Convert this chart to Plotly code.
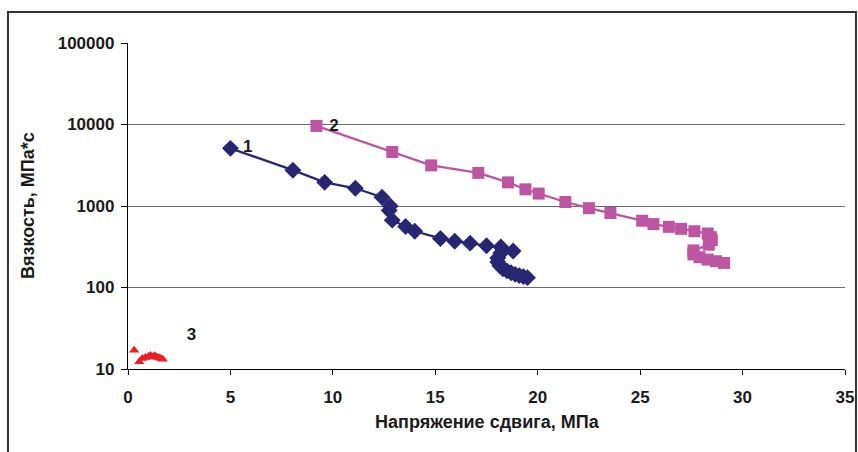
import plotly.graph_objects as go

# Series 1 (navy diamonds)
x1 = [5.0, 8.05, 9.6, 11.1, 12.4, 12.8, 12.75, 12.9, 13.55, 14.0, 15.25, 15.95, 16.7, 17.5,
      18.2, 18.8, 18.2, 18.05, 18.05, 18.15, 18.3, 18.5, 18.7, 18.9, 19.1, 19.3, 19.5]
y1 = [5100, 2750, 1950, 1650, 1280, 1000, 880, 670, 560, 490, 400, 370, 350, 325,
      315, 280, 265, 230, 205, 185, 170, 160, 152, 145, 140, 136, 132]

# Series 2 (magenta squares)
x2 = [9.2, 12.9, 14.8, 17.1, 18.55, 19.4, 20.05, 21.35, 22.5, 23.55, 25.1, 25.65, 26.4, 27.0,
      27.65, 28.3, 28.45, 28.5, 28.35, 27.6, 27.6, 27.9, 28.3, 28.7, 29.1]
y2 = [9600, 4600, 3150, 2550, 1950, 1600, 1420, 1120, 940, 820, 660, 600, 555, 525,
      490, 460, 415, 380, 335, 285, 255, 235, 220, 210, 200]

# Series 3 (red triangles)
x3 = [0.3, 0.55, 0.7, 0.85, 1.0, 1.1, 1.2, 1.3, 1.4, 1.5, 1.6, 1.7]
y3 = [17, 12.3, 13.5, 13.8, 14.2, 14.6, 14.0, 14.5, 14.0, 13.8, 13.5, 13.2]

# Series labels
lab_text = ["1", "2", "3"]
lab_x = [5.85, 10.05, 3.1]
lab_y = [5150, 9300, 25.5]

x_ticks = [0, 5, 10, 15, 20, 25, 30, 35]
y_ticks = [10, 100, 1000, 10000, 100000]
y_tick_text = ["10", "100", "1000", "10000", "100000"]

x_title = "Напряжение сдвига, МПа"
y_title = "Вязкость, МПа*с"

FONT = "Liberation Sans, Arial, sans-serif"
TXT = "#1a1a1a"

fig = go.Figure()
fig.add_trace(go.Scatter(
    x=x1, y=y1, mode="lines+markers",
    line=dict(color="#262673", width=2.3),
    marker=dict(symbol="diamond", size=13, color="#262673"),
    showlegend=False))
fig.add_trace(go.Scatter(
    x=x2, y=y2, mode="lines+markers",
    line=dict(color="#BE55A2", width=2.3),
    marker=dict(symbol="square", size=12, color="#BE55A2"),
    showlegend=False))
fig.add_trace(go.Scatter(
    x=x3, y=y3, mode="markers",
    marker=dict(symbol="triangle-up", size=9, color="#EE1C25"),
    showlegend=False))
fig.add_trace(go.Scatter(
    x=lab_x, y=lab_y, mode="text", text=lab_text,
    textfont=dict(family=FONT, size=17, color=TXT, weight="bold"),
    textposition="middle center", showlegend=False))

fig.update_layout(
    width=858, height=452,
    margin=dict(l=128, r=13, t=43, b=83),
    paper_bgcolor="white", plot_bgcolor="white",
    font=dict(family=FONT, size=17, color=TXT),
    xaxis=dict(
        range=[0, 35], tickvals=x_ticks, showgrid=False, zeroline=False,
        showline=True, linecolor="black", linewidth=1.3,
        ticks="outside", ticklen=5, tickcolor="black",
        tickfont=dict(family=FONT, size=17, weight="bold", color=TXT),
        ticklabelstandoff=7,
        automargin=False,
    ),
    yaxis=dict(
        type="log", range=[1, 5], tickvals=y_ticks, ticktext=y_tick_text,
        showgrid=True, gridcolor="#6a6a6a", gridwidth=1.3, zeroline=False,
        showline=True, linecolor="black", linewidth=1.3,
        ticks="outside", ticklen=6, tickcolor="black",
        tickfont=dict(family=FONT, size=17, weight="bold", color=TXT),
        ticklabelstandoff=3,
        automargin=False,
    ),
    annotations=[
        dict(text=x_title, xref="paper", yref="paper", x=0.5007, y=-0.1626,
             xanchor="center", yanchor="middle", showarrow=False,
             font=dict(family=FONT, size=18, color=TXT, weight="bold")),
        dict(text=y_title, xref="paper", yref="paper", x=-0.1395, y=0.503,
             xanchor="center", yanchor="middle", showarrow=False, textangle=-90,
             font=dict(family=FONT, size=18, color=TXT, weight="bold")),
    ],
    shapes=[dict(type="rect", xref="paper", yref="paper",
                 x0=-0.1674, x1=1.0153, y0=-0.35, y1=1.0951,
                 line=dict(color="#333333", width=2), layer="below")],
)

fig.write_html("out.html",
               config={"displayModeBar": False},
               post_script="document.body.style.margin='0';document.body.style.overflow='hidden';")
